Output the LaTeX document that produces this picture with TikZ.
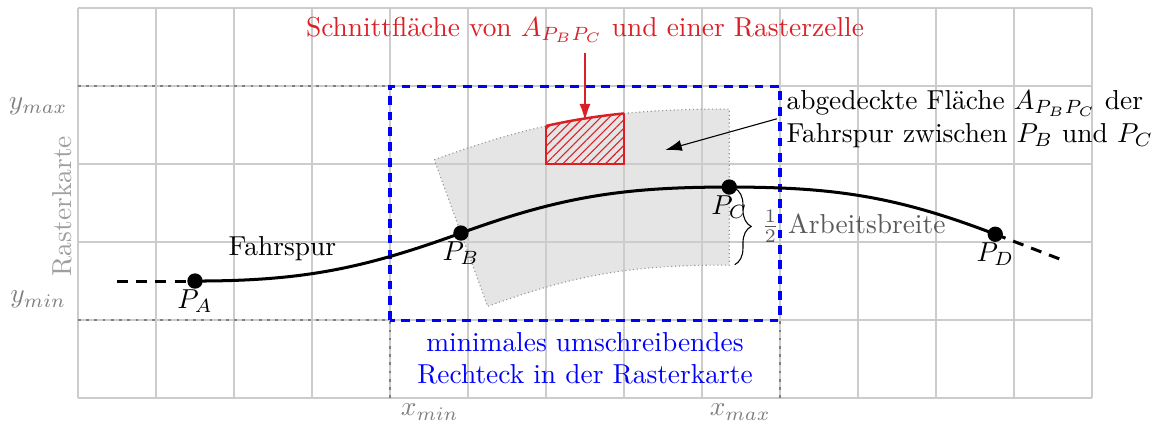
\documentclass[tikz,border=0pt]{standalone}
\usepackage{fontspec}
\usetikzlibrary{patterns,patterns.meta,decorations.pathreplacing,arrows.meta,calc}
\definecolor{redc}{RGB}{218,32,38}
\begin{document}
\begin{tikzpicture}[
  gridline/.style={draw=black!20, line width=0.45pt},
  limitline/.style={draw=gray, line width=1pt, dotted},
  bboxline/.style={draw=blue, line width=1.1pt, dash pattern=on 3.2pt off 2.4pt},
  track/.style={draw=black, line width=1.1pt},
  dot/.style={circle, fill=black, inner sep=0pt, minimum size=5.6pt},
  plabel/.style={label distance=-3.5pt},
  axislabel/.style={text=gray},
  regionfill/.style={fill=gray!20},
  regionborder/.style={draw=gray!85, densely dotted, line width=0.4pt},
  redline/.style={draw=redc, line width=0.9pt},
  annarrow/.style={-{Latex[length=6pt,width=4pt]}, line width=0.4pt}
]
\useasboundingbox (-1,-0.385) rectangle (13.872,5.103);
\def\RegionPath{(4.568,3.055) to[out=20,in=180] (8.35,3.705) -- (8.35,1.705) to[out=180,in=20] (5.252,1.175) -- cycle}

% covered area
\path[regionfill] \RegionPath;

% raster grid
\draw[gridline] (0,0) grid (13,5);

% limit lines
\coordinate (ymaxL) at (0,4);
\coordinate (ymaxR) at (4,4);
\coordinate (yminL) at (0,1);
\coordinate (yminR) at (4,1);
\coordinate (xminB) at (4,0);
\coordinate (xmaxB) at (9,0);
\coordinate (xmaxT) at (9,1);
\draw[limitline] (ymaxL) -- (ymaxR);
\draw[limitline] (yminL) -- (yminR);
\draw[limitline] (xminB) -- (yminR);
\draw[limitline] (xmaxB) -- (xmaxT);

% area border
\path[regionborder] \RegionPath;

% intersection with a raster cell
\begin{scope}
  \clip \RegionPath;
  \fill[pattern={Lines[angle=45,distance=2.2pt,line width=0.4pt]}, pattern color=redc] (6,3) rectangle (7,4);
  \draw[redline] (6,3) rectangle (7,4);
\end{scope}
\begin{scope}
  \clip (6,3) rectangle (7,4.2);
  \draw[redline] (4.568,3.055) to[out=20,in=180] (8.35,3.705);
\end{scope}

% bounding rectangle
\draw[bboxline] (4,1) rectangle (9,4);

% track
\node[dot, label={[plabel]below:$P_A$}] (pa) at (1.5,1.5) {};
\node[dot, label={[plabel]below:$P_B$}] (pb) at (4.91,2.115) {};
\node[dot, label={[plabel]below:$P_C$}] (pc) at (8.35,2.705) {};
\node[dot, label={[plabel]below:$P_D$}] (pd) at (11.76,2.10) {};
\coordinate (ts) at (0.5,1.5);
\coordinate (te) at (12.67,1.75);
\draw[track, dash pattern=on 4pt off 3pt] (ts) -- (pa.center);
\draw[track] (pa.center) to[out=0,in=200] (pb.center) to[out=20,in=180] (pc.center) to[out=0,in=159] (pd.center);
\draw[track, dash pattern=on 4pt off 3pt] (pd.center) -- (te);
\node (fahrspur) at (2.62,1.92) {Fahrspur};

% brace
\coordinate (bt) at (8.42,2.69);
\coordinate (bb) at (8.42,1.71);
\draw[decorate, decoration={brace, amplitude=6pt}, line width=0.4pt] (bt) -- (bb);
\node[anchor=west, text=black!65] (ab) at (8.64,2.2) {$\frac{1}{2}$ Arbeitsbreite};

% labels
\node[text=redc] (title) at (6.5,4.72) {Schnittfläche von $A_{P_BP_C}$ und einer Rasterzelle};
\coordinate (redtip) at (6.5,3.56);
\draw[annarrow, draw=redc, fill=redc] (title.south) -- (redtip);

\node[anchor=west, align=left] (ann) at (8.96,3.58) {abgedeckte Fläche $A_{P_BP_C}$ der\\Fahrspur zwischen $P_B$ und $P_C$};
\coordinate (anntip) at (7.53,3.18);
\draw[annarrow] (ann.west) -- (anntip);

\node[text=blue, align=center] (rect) at (6.5,0.51) {minimales umschreibendes\\Rechteck in der Rasterkarte};

\node[axislabel] (ymax) at (-0.51,3.74) {$y_{max}$};
\node[axislabel] (ymin) at (-0.51,1.26) {$y_{min}$};
\node[axislabel] (xmin) at (4.51,-0.18) {$x_{min}$};
\node[axislabel] (xmax) at (8.49,-0.18) {$x_{max}$};
\node[text=gray!75, rotate=90] (raster) at (-0.2,2.46) {Rasterkarte};
\end{tikzpicture}
\end{document}
